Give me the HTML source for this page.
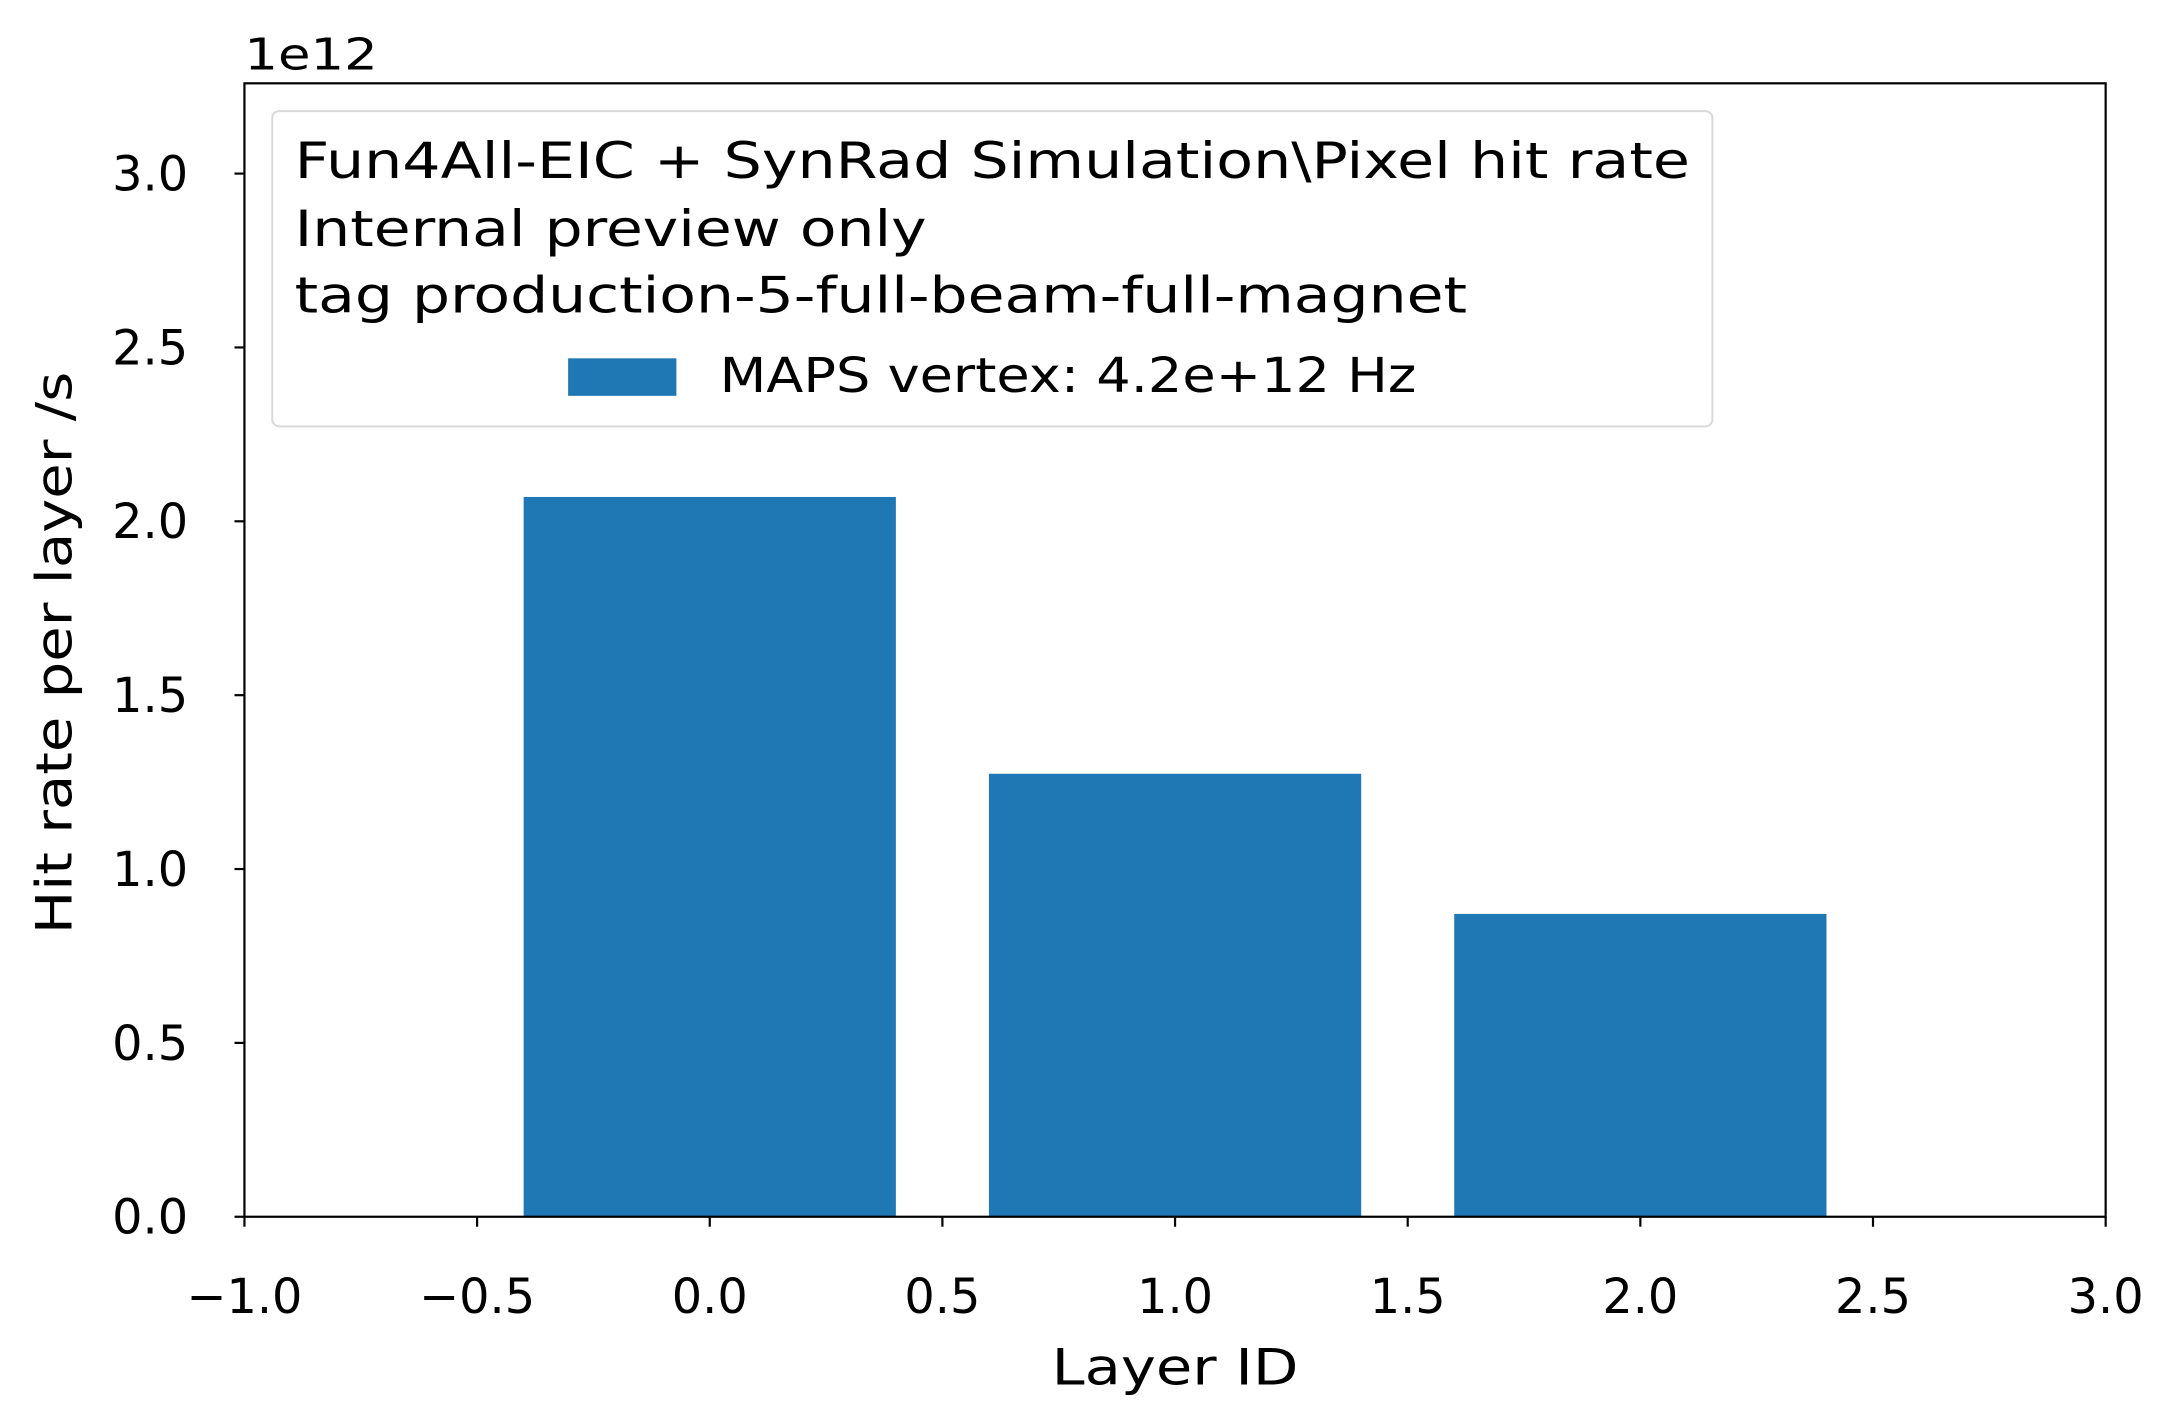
<!DOCTYPE html>
<html><head><meta charset="utf-8"><style>
html,body{margin:0;padding:0;background:#fff}
svg{display:block}
text{font-family:"DejaVu Sans","Liberation Sans",sans-serif;fill:#000}
</style></head><body>
<svg id="chart" width="2177" height="1426" viewBox="0 0 2177 1426" xmlns="http://www.w3.org/2000/svg">
<rect x="0" y="0" width="2177" height="1426" fill="#fff"/>
<g transform="scale(0.9953)">
<g id="bars"></g>
<g id="ticks"></g>
<rect x="245.6" y="83.7" width="1870" height="1138.8" fill="none" stroke="#000" stroke-width="2.2"/>
<text x="245.6" y="70" font-size="44" textLength="134" lengthAdjust="spacingAndGlyphs">1e12</text>
<text x="1180.6" y="1391" font-size="50" text-anchor="middle" textLength="248" lengthAdjust="spacingAndGlyphs">Layer ID</text>
<text transform="translate(72,656) rotate(-90)" font-size="50" text-anchor="middle" textLength="565" lengthAdjust="spacingAndGlyphs">Hit rate per layer /s</text>
<g>
<rect x="273.5" y="111.6" width="1447" height="316.8" rx="7" fill="#fff" fill-opacity="0.8" stroke="#d9d9d9" stroke-width="2"/>
<text x="296" y="179" font-size="50" textLength="1402" lengthAdjust="spacingAndGlyphs">Fun4All-EIC + SynRad Simulation\Pixel hit rate</text>
<text x="296" y="247" font-size="50" textLength="635" lengthAdjust="spacingAndGlyphs">Internal preview only</text>
<text x="296" y="314" font-size="50" textLength="1178" lengthAdjust="spacingAndGlyphs">tag production-5-full-beam-full-magnet</text>
<rect x="570.8" y="360" width="108.8" height="37.7" fill="#1f77b4"/>
<text x="723" y="394" font-size="48" textLength="700" lengthAdjust="spacingAndGlyphs">MAPS vertex: 4.2e+12 Hz</text>
</g>
</g>
</svg>
<script>
const categories = [0, 1, 2];
const values = [2.07, 1.274, 0.871];
const barWidth = 0.8;
const xTicks = [-1.0, -0.5, 0.0, 0.5, 1.0, 1.5, 2.0, 2.5, 3.0];
const xTickLabels = ["\u22121.0", "\u22120.5", "0.0", "0.5", "1.0", "1.5", "2.0", "2.5", "3.0"];
const yTicks = [0.0, 0.5, 1.0, 1.5, 2.0, 2.5, 3.0];
const yTickLabels = ["0.0", "0.5", "1.0", "1.5", "2.0", "2.5", "3.0"];

const X0 = 245.6, X1 = 2115.6, Y0 = 1222.5, YT = 83.7;
const xMin = -1, xMax = 3, yMin = 0, yMax = 3.0 * (Y0 - YT) / (Y0 - 174.4);
function xs(v){ return X0 + (v - xMin) / (xMax - xMin) * (X1 - X0); }
function ys(v){ return Y0 - (v - yMin) / (yMax - yMin) * (Y0 - YT); }
const NS = "http://www.w3.org/2000/svg";
const gb = document.getElementById('bars');
categories.forEach((c, i) => {
  const r = document.createElementNS(NS, 'rect');
  
  
  const xa = xs(c - barWidth/2), xb = xs(c + barWidth/2);
  r.setAttribute('x', xa); r.setAttribute('width', xb - xa);
  r.setAttribute('y', ys(values[i])); r.setAttribute('height', ys(0) - ys(values[i]));
  r.setAttribute('fill', '#1f77b4');
  gb.appendChild(r);
});
const gt = document.getElementById('ticks');
xTicks.forEach((t, i) => {
  const l = document.createElementNS(NS, 'line');
  
  
  l.setAttribute('x1', xs(t)); l.setAttribute('x2', xs(t));
  l.setAttribute('y1', Y0); l.setAttribute('y2', Y0 + 10);
  l.setAttribute('stroke', '#000'); l.setAttribute('stroke-width', '2.2');
  gt.appendChild(l);
  const tx = document.createElementNS(NS, 'text');
  
  
  tx.setAttribute('x', xs(t)); tx.setAttribute('y', 1319);
  tx.setAttribute('font-size', '48'); tx.setAttribute('text-anchor', 'middle');
  tx.textContent = xTickLabels[i];
  gt.appendChild(tx);
});
yTicks.forEach((t, i) => {
  const l = document.createElementNS(NS, 'line');
  
  
  l.setAttribute('x1', X0 - 10); l.setAttribute('x2', X0);
  l.setAttribute('y1', ys(t)); l.setAttribute('y2', ys(t));
  l.setAttribute('stroke', '#000'); l.setAttribute('stroke-width', '2.2');
  gt.appendChild(l);
  const tx = document.createElementNS(NS, 'text');
  
  
  tx.setAttribute('x', 189); tx.setAttribute('y', ys(t) + 17);
  tx.setAttribute('font-size', '48'); tx.setAttribute('text-anchor', 'end');
  tx.textContent = yTickLabels[i];
  gt.appendChild(tx);
});
</script>
</body></html>
